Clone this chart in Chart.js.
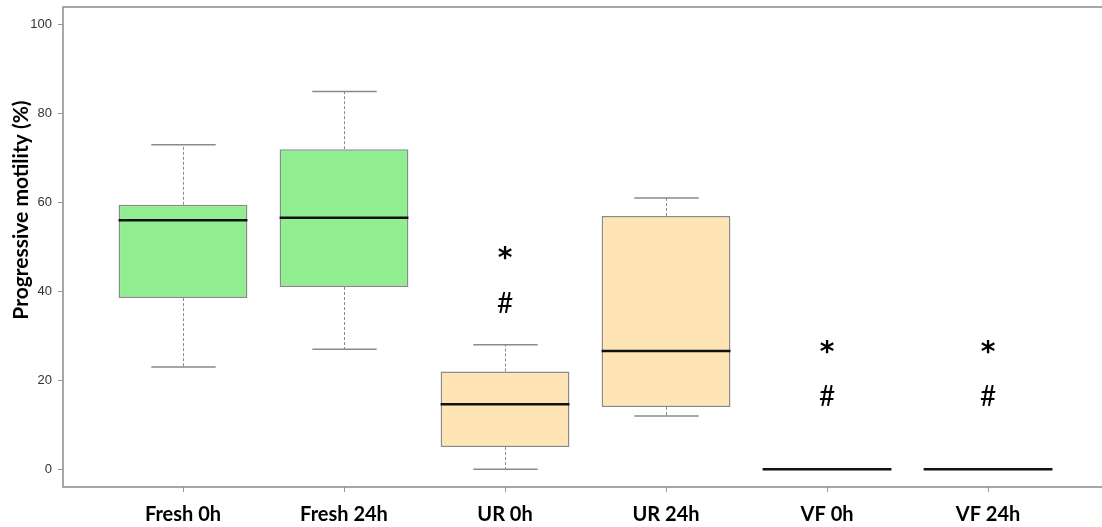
<!DOCTYPE html>
<html>
<head>
<meta charset="utf-8">
<script src="https://cdn.jsdelivr.net/npm/chart.js@4/dist/chart.umd.min.js"></script>
<style>
  body { margin: 0; overflow: hidden; background: #fff; }
</style>
</head>
<body>
<canvas id="motility" width="1110" height="527"></canvas>
<script>
var groups = ["Fresh 0h", "Fresh 24h", "UR 0h", "UR 24h", "VF 0h", "VF 24h"];
var lowWhisker = [23, 27, 0, 12, 0, 0];
var lowerQuartile = [38.5, 41, 5, 14, 0, 0];
var medians = [56, 56.6, 14.6, 26.6, 0, 0];
var upperQuartile = [59.5, 72, 22, 57, 0, 0];
var highWhisker = [73, 85, 28, 61, 0, 0];
var yTicks = [0, 20, 40, 60, 80, 100];

// significance marks and the level (in %) they sit at
var starLevel = [null, null, 48.2, null, 27, 27];
var hashLevel = [null, null, 37.1, null, 16.2, 16.2];

var boxFill = ["#90ee90", "#90ee90", "#ffe4b5", "#ffe4b5", "#ffe4b5", "#ffe4b5"];
var lineGrey = "#8a8a8a";

function seg(ctx, x1, y1, x2, y2) {
    ctx.beginPath();
    ctx.moveTo(x1, y1);
    ctx.lineTo(x2, y2);
    ctx.stroke();
}

var boxParts = {
    id: 'boxParts',
    beforeDatasetsDraw: function(chart) {
        var ctx = chart.ctx, xs = chart.scales.x, ys = chart.scales.y;
        var bars = chart.getDatasetMeta(0).data;
        ctx.save();
        ctx.strokeStyle = lineGrey;
        groups.forEach(function(g, i) {
            var cx = Math.round(xs.getPixelForValue(i + 1)) + 0.5;
            var cap = bars[i].width / 4;
            var hi = ys.getPixelForValue(highWhisker[i]);
            var lo = ys.getPixelForValue(lowWhisker[i]);
            ctx.lineWidth = 1;
            ctx.setLineDash([3, 2]);
            seg(ctx, cx, ys.getPixelForValue(upperQuartile[i]), cx, hi);
            seg(ctx, cx, ys.getPixelForValue(lowerQuartile[i]), cx, lo);
            ctx.setLineDash([]);
            ctx.lineWidth = 1.5;
            seg(ctx, cx - cap, hi, cx + cap, hi);
            seg(ctx, cx - cap, lo, cx + cap, lo);
        });
        ctx.restore();
    },
    afterDatasetsDraw: function(chart) {
        var ctx = chart.ctx, xs = chart.scales.x, ys = chart.scales.y;
        var area = chart.chartArea;
        var bars = chart.getDatasetMeta(0).data;
        ctx.save();
        // medians
        ctx.strokeStyle = "#111";
        ctx.lineWidth = 2.5;
        groups.forEach(function(g, i) {
            var cx = xs.getPixelForValue(i + 1);
            var half = bars[i].width / 2;
            var m = ys.getPixelForValue(medians[i]);
            seg(ctx, cx - half, m, cx + half, m);
        });
        // * and # marks
        ctx.fillStyle = "#000";
        ctx.textAlign = "center";
        groups.forEach(function(g, i) {
            var cx = xs.getPixelForValue(i + 1);
            if (starLevel[i] !== null) {
                ctx.font = "bold 28px 'DejaVu Sans'";
                ctx.textBaseline = "alphabetic";
                ctx.fillText("*", cx, ys.getPixelForValue(starLevel[i]) + 12);
            }
            if (hashLevel[i] !== null) {
                ctx.font = "28px Lato";
                ctx.textBaseline = "middle";
                ctx.fillText("#", cx, ys.getPixelForValue(hashLevel[i]));
            }
        });
        // plot frame
        ctx.strokeStyle = lineGrey;
        ctx.lineWidth = 1.5;
        ctx.strokeRect(area.left, area.top, area.right - area.left, area.bottom - area.top);
        // y axis title
        ctx.translate(21, 210);
        ctx.rotate(-Math.PI / 2);
        ctx.textBaseline = "middle";
        ctx.font = "bold 21px Lato";
        ctx.fillText("Progressive motility (%)", 0, 0);
        ctx.restore();
    }
};

var ctx = document.getElementById('motility');
var motility = new Chart(ctx, {
    type: 'bar',
    data: {
        datasets: [{
            data: groups.map(function(g, i) {
                return { x: i + 1, y: [lowerQuartile[i], upperQuartile[i]] };
            }),
            backgroundColor: boxFill,
            borderColor: lineGrey,
            borderWidth: 1.5,
            borderSkipped: false,
            categoryPercentage: 0.8,
            barPercentage: 1
        }]
    },
    options: {
        responsive: false,
        animation: false,
        layout: { padding: { top: 7, right: 2, left: 0, bottom: 0 } },
        plugins: {
            legend: { display: false },
            tooltip: { enabled: false }
        },
        scales: {
            x: {
                type: 'linear',
                min: 0.2547,
                max: 6.745,
                offset: false,
                afterBuildTicks: function(scale) {
                    scale.ticks = groups.map(function(g, i) { return { value: i + 1 }; });
                },
                afterFit: function(scale) { scale.height = 40; },
                ticks: {
                    autoSkip: false,
                    maxRotation: 0,
                    padding: 11,
                    color: '#000',
                    font: { family: 'Lato', size: 20, weight: 'bold' },
                    callback: function(v) { return groups[v - 1]; }
                },
                grid: {
                    offset: false,
                    drawOnChartArea: false,
                    drawTicks: true,
                    tickLength: 5,
                    tickColor: '#999'
                },
                border: { display: false }
            },
            y: {
                min: -4,
                max: 104,
                afterBuildTicks: function(scale) {
                    scale.ticks = yTicks.map(function(v) { return { value: v }; });
                },
                afterFit: function(scale) {
                    scale.width = 63;
                    scale.paddingTop = 0;
                    scale.paddingBottom = 0;
                },
                ticks: {
                    padding: 6,
                    color: '#333',
                    font: { family: 'Liberation Sans', size: 13 }
                },
                grid: {
                    drawOnChartArea: false,
                    drawTicks: true,
                    tickLength: 5,
                    tickColor: '#999'
                },
                border: { display: false }
            }
        }
    },
    plugins: [boxParts]
});
</script>
</body>
</html>
